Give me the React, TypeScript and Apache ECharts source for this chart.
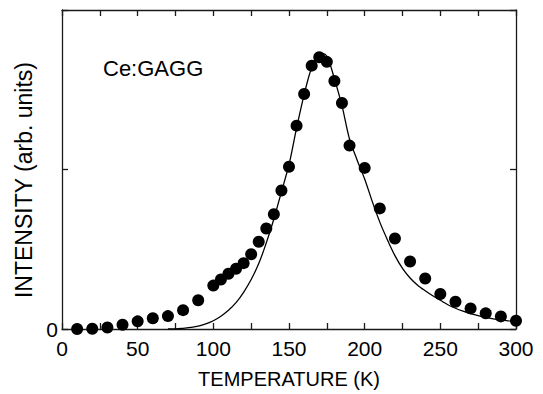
import React, { useEffect, useRef } from "react";
import * as echarts from "echarts";

// Measured data points (temperature K, intensity arb. units)
const pointTemps = [10, 20, 30, 40, 50, 60, 70, 80, 90, 100, 105, 110, 115, 120, 125, 130, 135, 140, 145, 150, 155, 160, 165, 170, 175, 180, 185, 190, 200, 210, 220, 230, 240, 250, 260, 270, 280, 290, 300];
const pointValues = [0.0, 0.002, 0.009, 0.027, 0.048, 0.067, 0.081, 0.118, 0.18, 0.272, 0.31, 0.346, 0.378, 0.413, 0.469, 0.547, 0.63, 0.719, 0.868, 1.017, 1.275, 1.473, 1.651, 1.704, 1.675, 1.555, 1.417, 1.15, 1.01, 0.756, 0.567, 0.423, 0.317, 0.219, 0.171, 0.129, 0.098, 0.079, 0.052];

// Fitted curve
const fitTemps = [70, 75, 80, 85, 90, 95, 100, 105, 110, 115, 120, 125, 130, 135, 140, 145, 150, 155, 160, 165, 170, 173, 176, 180, 185, 190, 195, 200, 205, 210, 215, 220, 225, 230, 235, 240, 245, 250, 255, 260, 265, 270, 275, 280, 285, 290, 295, 300];
const fitValues = [0.0, 0.0, 0.004, 0.01, 0.018, 0.032, 0.052, 0.08, 0.117, 0.165, 0.23, 0.31, 0.41, 0.54, 0.69, 0.86, 1.03, 1.26, 1.47, 1.64, 1.72, 1.725, 1.69, 1.57, 1.4, 1.19, 1.06, 0.94, 0.8, 0.67, 0.56, 0.46, 0.38, 0.32, 0.275, 0.24, 0.208, 0.18, 0.152, 0.13, 0.112, 0.097, 0.084, 0.073, 0.064, 0.057, 0.051, 0.046];

const xTickLabels = ["0", "50", "100", "150", "200", "250", "300"];
const yTickLabels = ["0"];

const FONT = "Liberation Sans, Arial, sans-serif";
const AXIS_COLOR = "#1a1a1a";

export default function App() {
  const ref = useRef<HTMLDivElement>(null);
  useEffect(() => {
    if (!ref.current) return;
    const chart = echarts.init(ref.current, null, { renderer: "svg" });
    const axisLine = { show: true, onZero: false, lineStyle: { color: AXIS_COLOR, width: 1.3 } };
    const tick = { show: true, inside: true, length: 6, lineStyle: { color: AXIS_COLOR, width: 1.3 } };
    chart.setOption({
      animation: false,
      backgroundColor: "#ffffff",
      grid: { left: 62, right: 27, top: 10, bottom: 64, containLabel: false },
      xAxis: [
        {
          type: "value",
          min: 0,
          max: 300,
          interval: 25,
          position: "bottom",
          axisLine,
          axisTick: tick,
          splitLine: { show: false },
          axisLabel: {
            color: "#000",
            fontFamily: FONT,
            fontSize: 21,
            margin: 9,
            formatter: (v: number) => (xTickLabels.includes(String(v)) ? String(v) : ""),
          },
          name: "TEMPERATURE (K)",
          nameLocation: "middle",
          nameGap: 40,
          nameTextStyle: { color: "#000", fontFamily: FONT, fontSize: 20 },
        },
        {
          type: "value",
          min: 0,
          max: 300,
          interval: 25,
          position: "top",
          axisLine,
          axisTick: tick,
          splitLine: { show: false },
          axisLabel: { show: false },
        },
      ],
      yAxis: [
        {
          type: "value",
          min: 0,
          max: 2,
          interval: 1,
          position: "left",
          axisLine,
          axisTick: tick,
          splitLine: { show: false },
          axisLabel: {
            color: "#000",
            fontFamily: FONT,
            fontSize: 21,
            margin: 4,
            formatter: (v: number) => (yTickLabels.includes(String(v)) ? String(v) : ""),
          },
        },
        {
          type: "value",
          min: 0,
          max: 2,
          interval: 1,
          position: "right",
          axisLine,
          axisTick: tick,
          splitLine: { show: false },
          axisLabel: { show: false },
        },
      ],
      graphic: [
        {
          type: "text",
          left: 103,
          top: 57,
          style: { text: "Ce:GAGG", fill: "#000", font: `22px ${FONT}` },
        },
        {
          type: "text",
          x: 24,
          y: 180,
          rotation: Math.PI / 2,
          style: {
            text: "INTENSITY (arb. units)",
            fill: "#000",
            font: `23px ${FONT}`,
            align: "center",
            verticalAlign: "middle",
          },
        },
      ],
      series: [
        {
          type: "line",
          data: fitTemps.map((t, i) => [t, fitValues[i]]),
          smooth: 0.3,
          showSymbol: false,
          symbol: "none",
          lineStyle: { color: "#000", width: 1.3 },
          z: 2,
        },
        {
          type: "scatter",
          data: pointTemps.map((t, i) => [t, pointValues[i]]),
          symbol: "circle",
          symbolSize: 12,
          itemStyle: { color: "#000", opacity: 1 },
          z: 3,
        },
      ],
    });
    return () => chart.dispose();
  }, []);
  return <div ref={ref} style={{ width: 543, height: 394, position: "absolute", left: 0, top: 0 }} />;
}
